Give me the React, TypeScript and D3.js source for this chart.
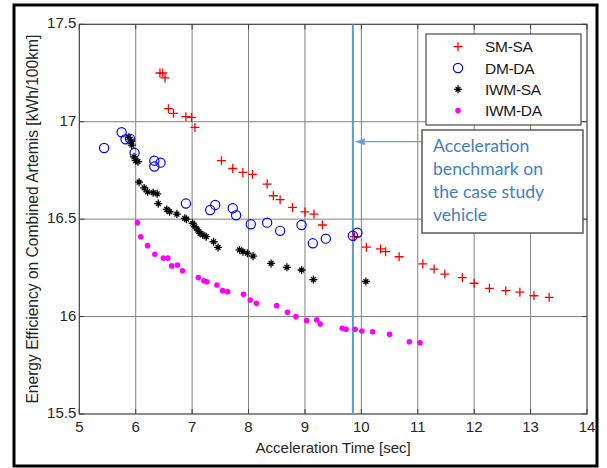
import React from "react";
import * as d3 from "d3";

// Acceleration time [sec] vs. energy efficiency [kWh/100km] per topology
const smSa: [number, number][] = [
  [6.43, 17.25], [6.48, 17.25], [6.52, 17.225], [6.58, 17.067], [6.67, 17.043],
  [6.89, 17.026], [6.99, 17.022], [7.05, 16.971], [7.52, 16.8], [7.72, 16.76],
  [7.9, 16.74], [8.07, 16.73], [8.33, 16.68], [8.44, 16.62], [8.56, 16.6],
  [8.78, 16.56], [9.0, 16.537], [9.16, 16.526], [9.31, 16.47], [9.88, 16.41],
  [10.09, 16.356], [10.34, 16.347], [10.43, 16.333], [10.67, 16.307], [11.09, 16.27],
  [11.29, 16.244], [11.48, 16.218], [11.79, 16.2], [12.0, 16.171], [12.27, 16.145],
  [12.56, 16.133], [12.81, 16.125], [13.06, 16.107], [13.33, 16.099],
];

const dmDa: [number, number][] = [
  [5.44, 16.865], [5.75, 16.946], [5.82, 16.91], [5.9, 16.912], [5.98, 16.84],
  [6.33, 16.8], [6.33, 16.77], [6.44, 16.79], [6.89, 16.58], [7.32, 16.547],
  [7.41, 16.573], [7.72, 16.556], [7.78, 16.52], [8.04, 16.474], [8.33, 16.482],
  [8.56, 16.44], [8.94, 16.47], [9.14, 16.376], [9.37, 16.4], [9.85, 16.415],
  [9.93, 16.43],
];

const iwmSa: [number, number][] = [
  [5.88, 16.92], [5.92, 16.9], [5.93, 16.88], [5.97, 16.82], [6.0, 16.8],
  [6.04, 16.795], [6.06, 16.69], [6.15, 16.66], [6.21, 16.64], [6.31, 16.636],
  [6.38, 16.63], [6.4, 16.58], [6.55, 16.55], [6.6, 16.538], [6.73, 16.526],
  [6.87, 16.504], [6.9, 16.5], [7.01, 16.479], [7.05, 16.461], [7.1, 16.444],
  [7.14, 16.427], [7.19, 16.419], [7.25, 16.41], [7.38, 16.384], [7.46, 16.355],
  [7.84, 16.342], [7.9, 16.333], [7.98, 16.325], [8.08, 16.31], [8.4, 16.273],
  [8.68, 16.253], [8.94, 16.239], [9.15, 16.19], [10.08, 16.18],
];

const iwmDa: [number, number][] = [
  [6.03, 16.482], [6.09, 16.41], [6.21, 16.364], [6.34, 16.32], [6.49, 16.3],
  [6.57, 16.3], [6.64, 16.26], [6.74, 16.265], [6.83, 16.235], [7.11, 16.2],
  [7.21, 16.184], [7.26, 16.179], [7.44, 16.162], [7.54, 16.133], [7.63, 16.128],
  [7.91, 16.114], [8.03, 16.085], [8.14, 16.068], [8.5, 16.056], [8.69, 16.022],
  [8.84, 16.0], [9.03, 15.979], [9.21, 15.983], [9.27, 15.962], [9.66, 15.94],
  [9.73, 15.935], [9.89, 15.935], [10.01, 15.926], [10.2, 15.922], [10.5, 15.909],
  [10.85, 15.871], [11.04, 15.866],
];

const xTicks = [5, 6, 7, 8, 9, 10, 11, 12, 13, 14];
const yTicks = [15.5, 16, 16.5, 17, 17.5];
const legendLabels = ["SM-SA", "DM-DA", "IWM-SA", "IWM-DA"];
const benchmarkX = 9.85;
const noteLines = ["Acceleration", "benchmark on", "the case study", "vehicle"];

const W = 607;
const H = 468;
const plot = { left: 79.3, right: 587, top: 24.3, bottom: 414 };

const x = d3.scaleLinear().domain([5, 14]).range([plot.left, plot.right]);
const y = d3.scaleLinear().domain([15.5, 17.5]).range([plot.bottom, plot.top]);

const axisFont = "'Liberation Sans', Arial, sans-serif";
const noteColor = "#3f80c2";

type MarkerKind = "plus" | "circle" | "star" | "dot";

function Marker({ kind, cx, cy }: { kind: MarkerKind; cx: number; cy: number }) {
  if (kind === "plus") {
    const s = 4.5;
    return (
      <path
        d={`M${cx - s},${cy}H${cx + s}M${cx},${cy - s}V${cy + s}`}
        stroke="#ff0000"
        strokeWidth={1.3}
        fill="none"
      />
    );
  }
  if (kind === "circle") {
    return <circle cx={cx} cy={cy} r={4.6} stroke="#0000ff" strokeWidth={1.2} fill="none" />;
  }
  if (kind === "star") {
    const s = 4;
    const d = 2.4;
    return (
      <path
        d={`M${cx - s},${cy}H${cx + s}M${cx},${cy - s}V${cy + s}M${cx - d},${cy - d}L${cx + d},${cy + d}M${cx - d},${cy + d}L${cx + d},${cy - d}`}
        stroke="#000000"
        strokeWidth={1.3}
        fill="none"
      />
    );
  }
  return <circle cx={cx} cy={cy} r={2.8} fill="#ff00ff" />;
}

const seriesList: { data: [number, number][]; kind: MarkerKind }[] = [
  { data: smSa, kind: "plus" },
  { data: dmDa, kind: "circle" },
  { data: iwmSa, kind: "star" },
  { data: iwmDa, kind: "dot" },
];

export default function App() {
  const pw = plot.right - plot.left;
  const ph = plot.bottom - plot.top;
  const tickLen = 5;
  const legend = { x: 426, y: 34, w: 155, h: 91 };
  const note = { x: 422, y: 130, w: 161, h: 103 };
  const arrowY = 141.7;
  const bx = x(benchmarkX);

  return (
    <svg
      width={W}
      height={H}
      viewBox={`0 0 ${W} ${H}`}
      style={{ position: "absolute", left: 0, top: 0, background: "#fff" }}
    >
      <rect x={0} y={0} width={W} height={H} fill="#fff" />
      {/* outer frame */}
      <rect x={14} y={5} width={583} height={461} fill="none" stroke="#000" strokeWidth={3} />

      {/* grid */}
      <g stroke="#808080" strokeWidth={1}>
        {xTicks.slice(1, -1).map((t) => (
          <line key={`gx${t}`} x1={x(t)} x2={x(t)} y1={plot.top} y2={plot.bottom} />
        ))}
        {yTicks.slice(1, -1).map((t) => (
          <line key={`gy${t}`} x1={plot.left} x2={plot.right} y1={y(t)} y2={y(t)} />
        ))}
      </g>

      {/* axes box and ticks */}
      <rect x={plot.left} y={plot.top} width={pw} height={ph} fill="none" stroke="#404040" strokeWidth={1.2} />
      <g stroke="#404040" strokeWidth={1}>
        {xTicks.map((t) => (
          <g key={`tx${t}`}>
            <line x1={x(t)} x2={x(t)} y1={plot.bottom} y2={plot.bottom - tickLen} />
            <line x1={x(t)} x2={x(t)} y1={plot.top} y2={plot.top + tickLen} />
          </g>
        ))}
        {yTicks.map((t) => (
          <g key={`ty${t}`}>
            <line x1={plot.left} x2={plot.left + tickLen} y1={y(t)} y2={y(t)} />
            <line x1={plot.right} x2={plot.right - tickLen} y1={y(t)} y2={y(t)} />
          </g>
        ))}
      </g>

      <g fontFamily={axisFont} fontSize={15} fill="#262626">
        {xTicks.map((t) => (
          <text key={`lx${t}`} x={x(t)} y={432} textAnchor="middle">
            {t}
          </text>
        ))}
        {yTicks.map((t) => (
          <text key={`ly${t}`} x={plot.left - 3} y={y(t) + 4} textAnchor="end">
            {t}
          </text>
        ))}
        <text x={(plot.left + plot.right) / 2} y={453} textAnchor="middle">
          Acceleration Time [sec]
        </text>
        <text
          transform={`translate(38,${(plot.top + plot.bottom) / 2}) rotate(-90)`}
          textAnchor="middle"
          fontSize={15.6}
        >
          Energy Efficiency on Combined Artemis [kWh/100km]
        </text>
      </g>

      {/* benchmark line */}
      <line x1={bx} x2={bx} y1={plot.top} y2={plot.bottom} stroke="#5b9bd5" strokeWidth={2} />

      {/* data */}
      {seriesList.map((s) => (
        <g key={s.kind}>
          {s.data.map(([vx, vy], i) => (
            <Marker key={i} kind={s.kind} cx={x(vx)} cy={y(vy)} />
          ))}
        </g>
      ))}

      {/* legend */}
      <rect x={legend.x} y={legend.y} width={legend.w} height={legend.h} fill="#fff" stroke="#262626" strokeWidth={1} />
      {legendLabels.map((lab, i) => {
        const ly = 46.7 + i * 21.3;
        return (
          <g key={lab}>
            <Marker kind={seriesList[i].kind} cx={458} cy={ly} />
            <text x={485} y={ly + 5.5} fontFamily={axisFont} fontSize={15.5} fill="#1a1a1a" letterSpacing={-0.3}>
              {lab}
            </text>
          </g>
        );
      })}

      {/* annotation */}
      <line x1={bx + 12} x2={note.x} y1={arrowY} y2={arrowY} stroke="#6a9fd6" strokeWidth={1.3} />
      <path
        d={`M${bx + 2},${arrowY}L${bx + 12},${arrowY - 3.5}L${bx + 12},${arrowY + 3.5}Z`}
        fill="#6a9fd6"
      />
      <rect x={note.x} y={note.y} width={note.w} height={note.h} fill="#fff" stroke="#595959" strokeWidth={1.5} />
      {noteLines.map((ln, i) => (
        <text
          key={ln}
          x={433}
          y={152 + i * 23}
          fontFamily="Lato, 'Open Sans', sans-serif"
          fontSize={17.6}
          fill={noteColor}
        >
          {ln}
        </text>
      ))}
    </svg>
  );
}
